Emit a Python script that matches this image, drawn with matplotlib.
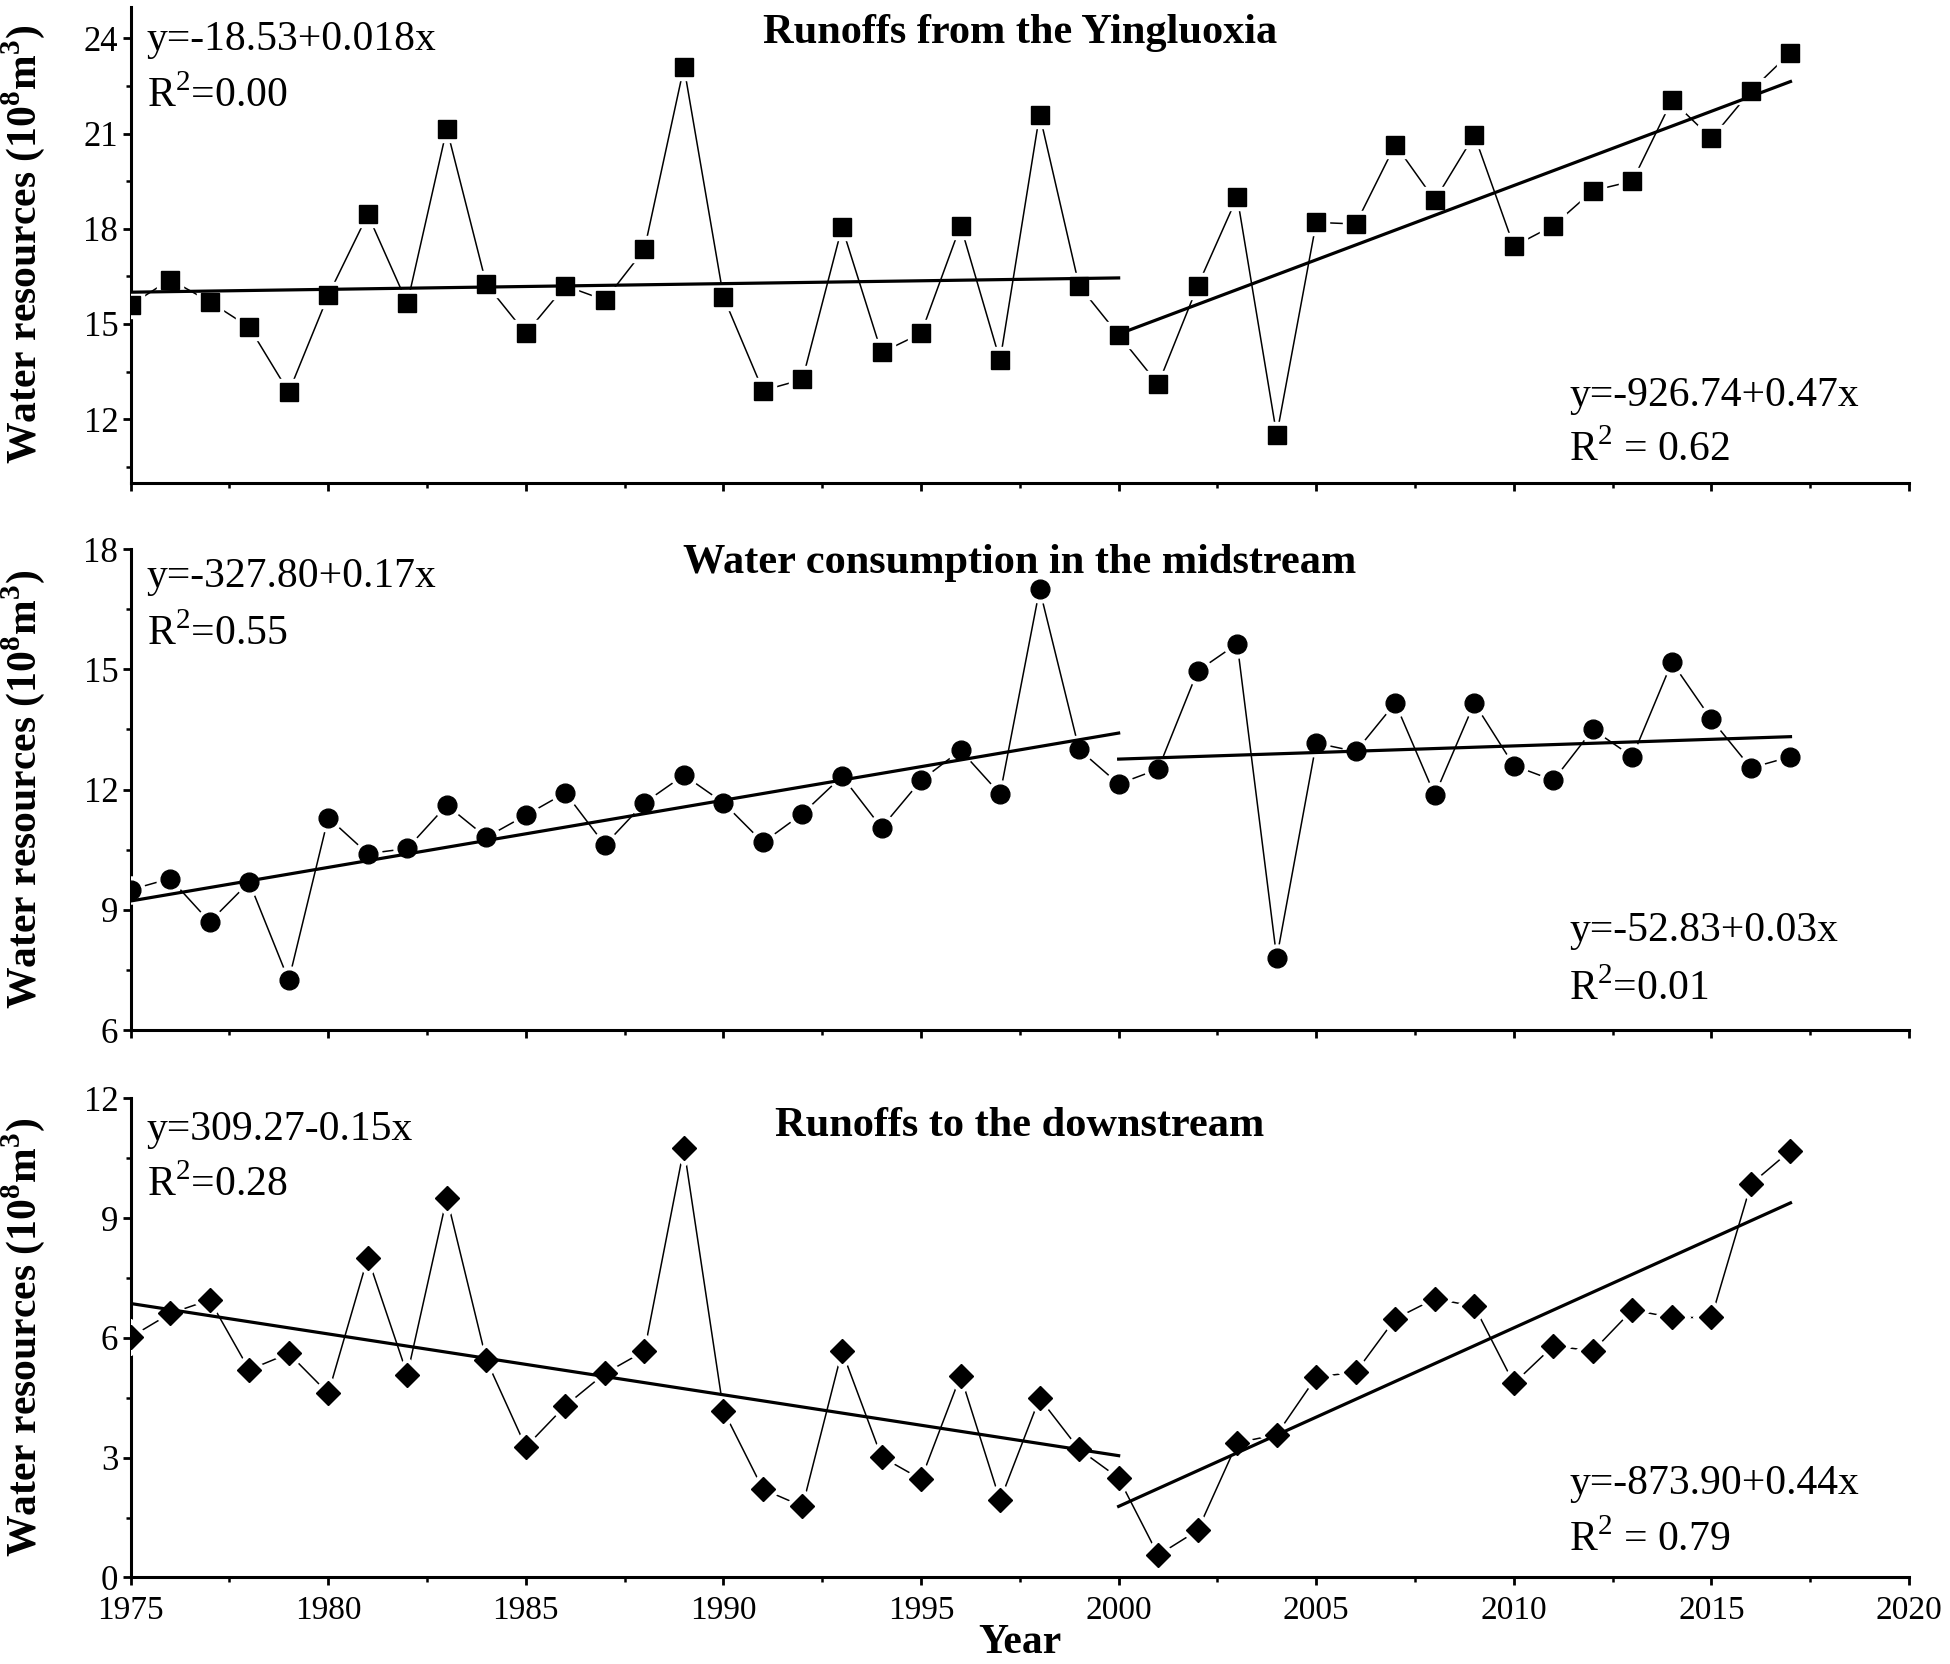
import numpy as np
import matplotlib
matplotlib.use("Agg")
import matplotlib.pyplot as plt

plt.rcParams['font.family'] = ['Liberation Serif', 'DejaVu Serif']
plt.rcParams['mathtext.fontset'] = 'custom'
plt.rcParams['mathtext.rm'] = 'Liberation Serif'
plt.rcParams['mathtext.bf'] = 'Liberation Serif:bold'

years = np.arange(1975, 2018)

# runoffs from the Yingluoxia (10^8 m3)
yingluoxia = [15.6, 16.4, 15.7, 14.9, 12.85, 15.9, 18.45, 15.65, 21.15, 16.25,
              14.7, 16.2, 15.75, 17.35, 23.1, 15.85, 12.9, 13.25, 18.05, 14.1,
              14.7, 18.1, 13.85, 21.6, 16.2, 14.65, 13.1, 16.2, 19.0, 11.5,
              18.2, 18.15, 20.65, 18.9, 20.95, 17.45, 18.1, 19.2, 19.5, 22.05,
              20.85, 22.35, 23.55]
# water consumption in the midstream
midstream = [9.5, 9.78, 8.7, 9.69, 7.24, 11.3, 10.4, 10.53, 11.61, 10.81,
             11.36, 11.92, 10.62, 11.67, 12.36, 11.67, 10.68, 11.4, 12.33, 11.05,
             12.23, 12.98, 11.89, 17.0, 13.0, 12.14, 12.51, 14.96, 15.64, 7.8,
             13.16, 12.95, 14.16, 11.86, 14.16, 12.6, 12.23, 13.5, 12.82, 15.18,
             13.75, 12.54, 12.82]
# runoffs to the downstream
downstream = [6.02, 6.61, 6.95, 5.2, 5.61, 4.61, 8.01, 5.08, 9.51, 5.45,
              3.27, 4.3, 5.11, 5.67, 10.75, 4.18, 2.21, 1.78, 5.67, 3.02,
              2.46, 5.05, 1.93, 4.49, 3.21, 2.49, 0.56, 1.18, 3.37, 3.58,
              5.02, 5.14, 6.48, 6.98, 6.79, 4.86, 5.8, 5.67, 6.7, 6.51,
              6.51, 9.85, 10.69]

# trend line end points (1975-2000, 2000-2017)
trend_x1 = [1975, 2000]
trend_x2 = [2000, 2017]
trend1 = [[16.0, 16.45], [9.22, 13.41], [6.86, 3.05]]
trend2 = [[14.68, 22.64], [12.76, 13.32], [1.78, 9.38]]

titles = ['Runoffs from the Yingluoxia', 'Water consumption in the midstream',
          'Runoffs to the downstream']
eq_left = ['y=-18.53+0.018x', 'y=-327.80+0.17x', 'y=309.27-0.15x']
r2_left = ['R$^2$=0.00', 'R$^2$=0.55', 'R$^2$=0.28']
eq_right = ['y=-926.74+0.47x', 'y=-52.83+0.03x', 'y=-873.90+0.44x']
r2_right = ['R$^2$ = 0.62', 'R$^2$=0.01', 'R$^2$ = 0.79']

series = [yingluoxia, midstream, downstream]
markers = ['s', 'o', 'D']
msizes = [13, 13.5, 12]
ylims = [(10, 25), (6, 18), (0, 12)]
yticks = [np.arange(12, 25, 3), np.arange(6, 19, 3), np.arange(0, 13, 3)]

# axes positions [left, bottom, width, height] in figure fraction
positions = [[0.067, 0.710, 0.912, 0.286],
             [0.067, 0.381, 0.912, 0.289],
             [0.067, 0.052, 0.912, 0.288]]
title_y = [0.945, 0.972, 0.943]
eq_ly = [0.93, 0.943, 0.935]
r2_ly = [0.812, 0.824, 0.818]
eq_ry = [0.183, 0.207, 0.195]
r2_ry = [0.068, 0.085, 0.078]

fig = plt.figure(figsize=(19.5, 16.64), dpi=100)

for i in range(3):
    ax = fig.add_axes(positions[i])
    vals = series[i]
    ax.plot(years, vals, color='black', lw=1.1, zorder=2)
    ax.plot(years, vals, ls='none', marker=markers[i], ms=msizes[i] + 6,
            color='white', zorder=3)
    ax.plot(trend_x1, trend1[i], color='black', lw=2.3, zorder=4)
    ax.plot(trend_x2, trend2[i], color='black', lw=2.3, zorder=4)
    ax.plot(years, vals, ls='none', marker=markers[i], ms=msizes[i],
            color='black', zorder=5)

    ax.set_xlim(1975, 2020)
    ax.set_ylim(*ylims[i])
    ax.set_xticks(np.arange(1975, 2021, 5))
    ax.set_xticks(np.arange(1977.5, 2020, 5), minor=True)
    ax.set_yticks(yticks[i])
    ax.set_yticks(yticks[i][:-1] + 1.5, minor=True)
    if i == 0:
        ax.set_yticks(np.arange(10.5, 25, 3), minor=True)

    for s in ['top', 'right']:
        ax.spines[s].set_visible(False)
    for s in ['left', 'bottom']:
        ax.spines[s].set_linewidth(2.2)

    ax.tick_params(axis='both', which='major', direction='out', length=6,
                   width=2, pad=4)
    ax.tick_params(axis='both', which='minor', direction='out', length=3.5,
                   width=1.8)
    ax.tick_params(axis='x', labelsize=24, pad=7)
    ax.tick_params(axis='y', labelsize=25, pad=3)
    if i < 2:
        ax.tick_params(axis='x', labelbottom=False)

    ax.set_ylabel(r'Water resources (10$^\mathbf{8}$m$^\mathbf{3}$)',
                  fontsize=30, fontweight='bold')
    ax.yaxis.set_label_coords(-0.047, 0.5)

    ax.text(0.5, title_y[i], titles[i], transform=ax.transAxes, ha='center',
            va='center', fontsize=30.5, fontweight='bold')
    ax.text(0.009, eq_ly[i], eq_left[i], transform=ax.transAxes, ha='left',
            va='center', fontsize=30)
    ax.text(0.009, r2_ly[i], r2_left[i], transform=ax.transAxes, ha='left',
            va='center', fontsize=30)
    ax.text(0.809, eq_ry[i], eq_right[i], transform=ax.transAxes, ha='left',
            va='center', fontsize=30)
    ax.text(0.809, r2_ry[i], r2_right[i], transform=ax.transAxes, ha='left',
            va='center', fontsize=30)

    if i == 2:
        ax.set_xlabel('Year', fontsize=30, fontweight='bold')
        ax.xaxis.set_label_coords(0.5, -0.098)

fig.savefig('out.png', dpi=100)
